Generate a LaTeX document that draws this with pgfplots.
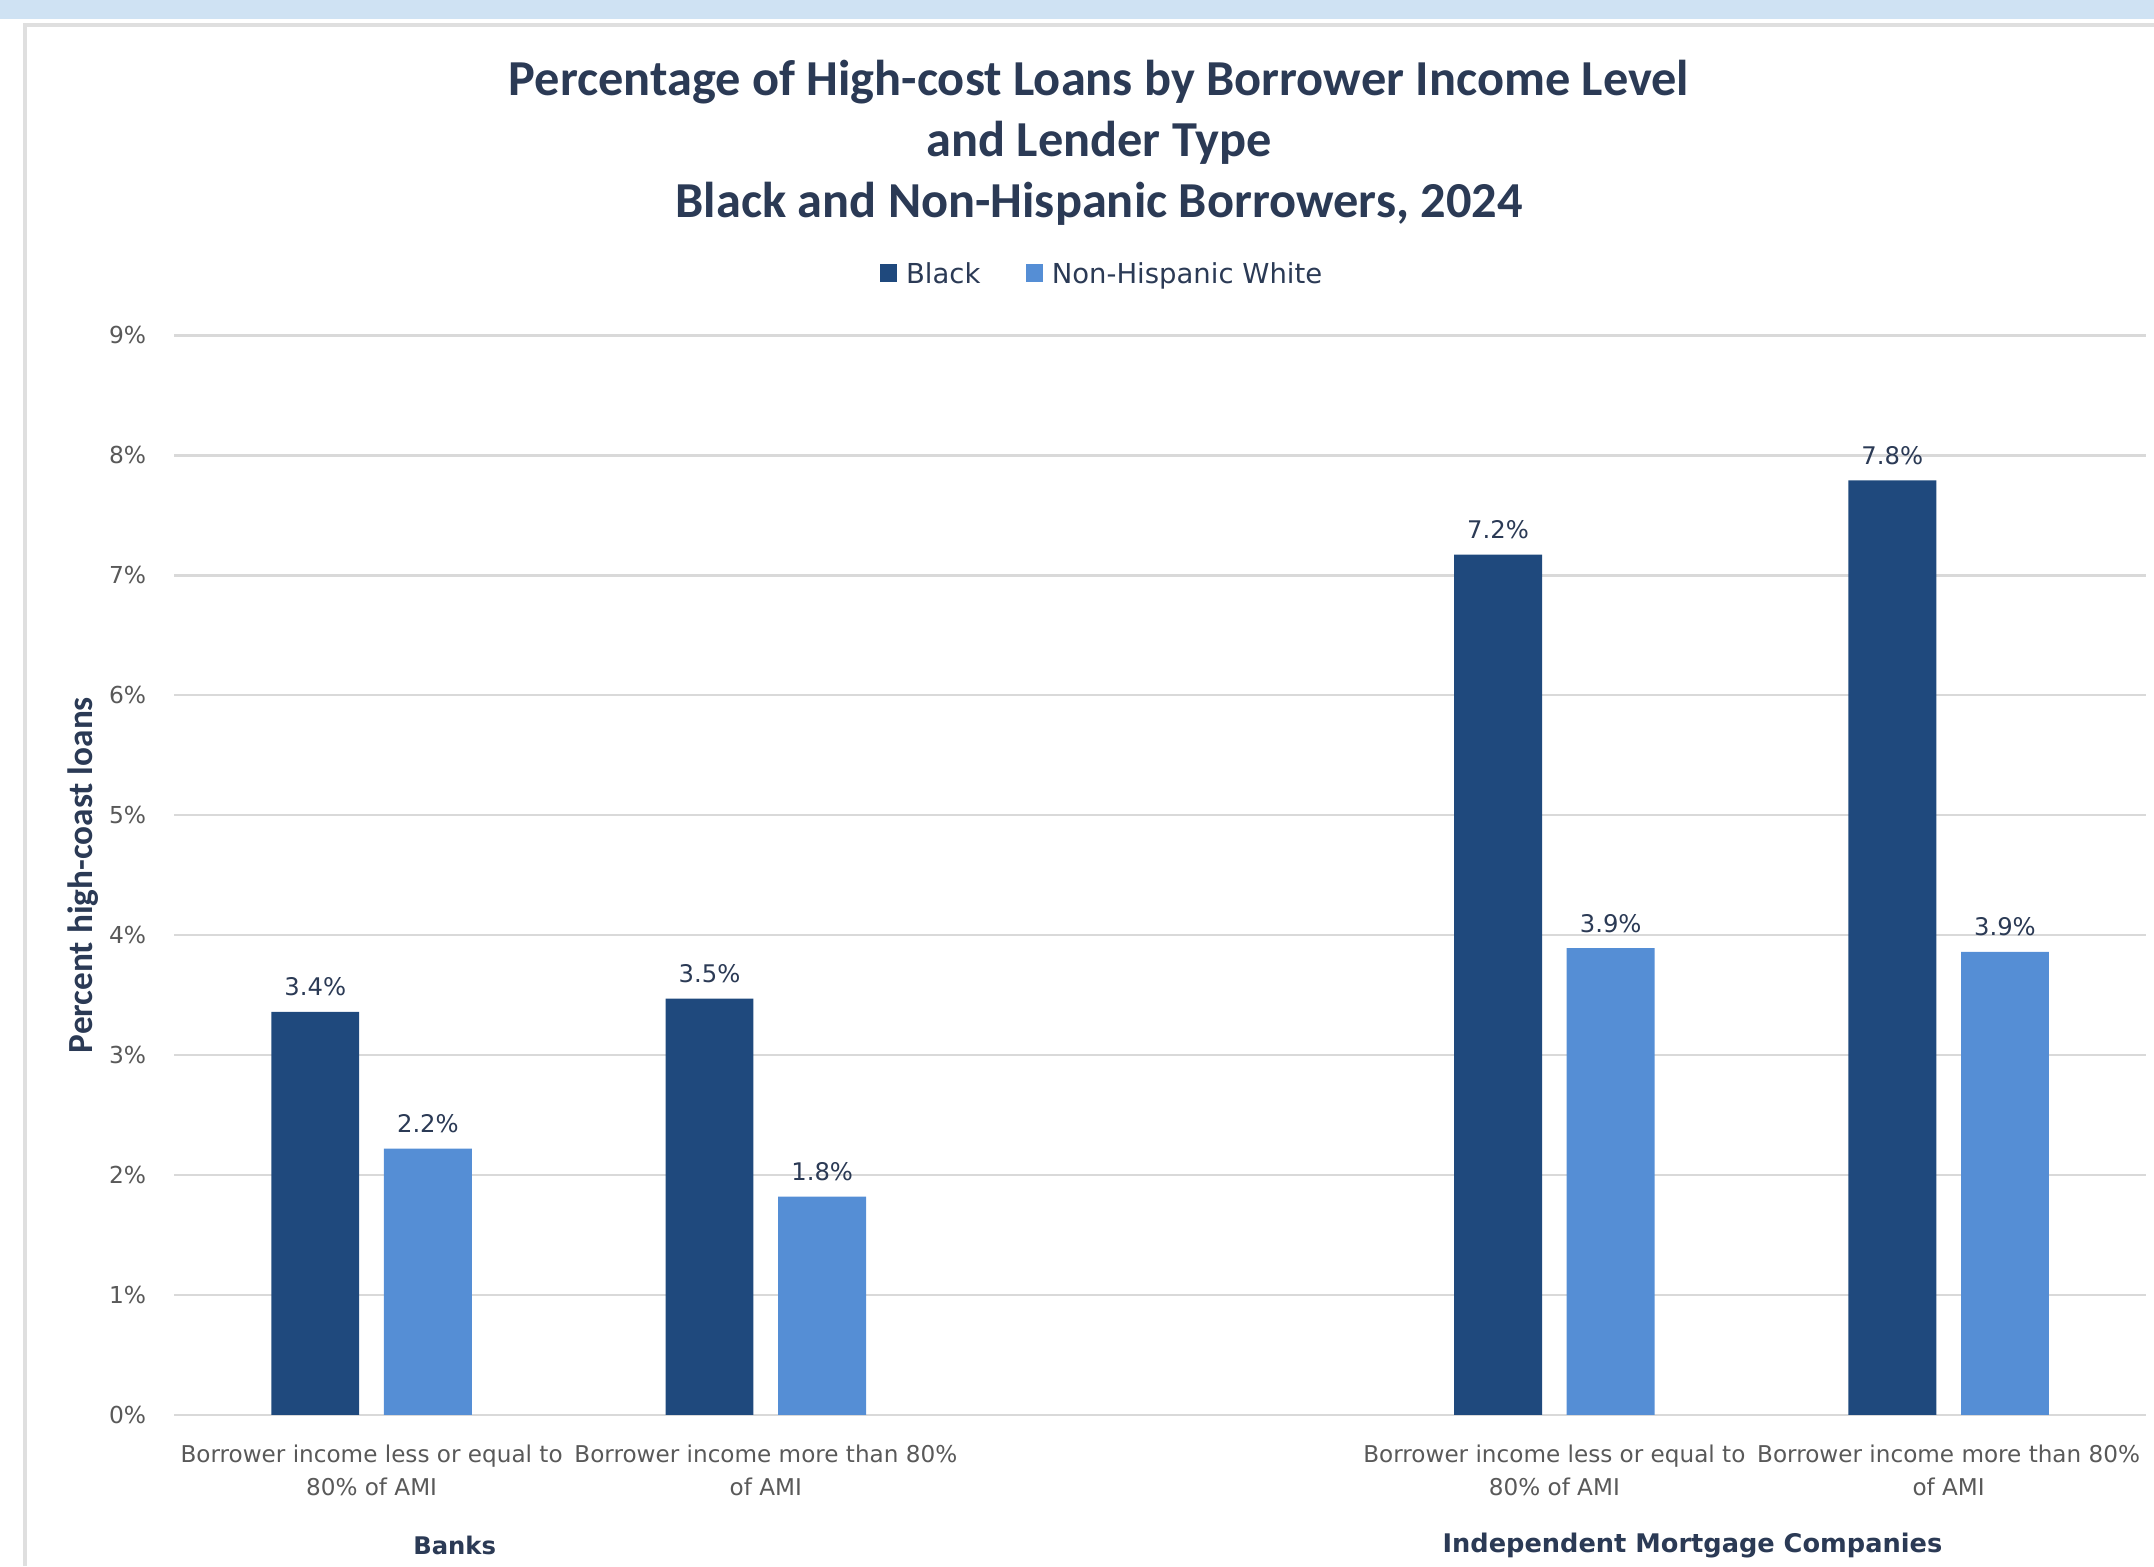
\documentclass[border=0pt]{standalone}
\usepackage{pgfplots}
\pgfplotsset{compat=1.18}
\usepackage{fontspec}
\setmainfont{Carlito}
\newfontfamily\dejavu{DejaVu Sans}
\definecolor{darkbar}{HTML}{1F497D}
\definecolor{lightbar}{HTML}{558ED5}
\definecolor{titlecol}{HTML}{2B3A55}
\definecolor{tickcol}{HTML}{595959}
\definecolor{gridcol}{HTML}{D9D9D9}
\definecolor{band}{HTML}{CFE2F3}
\begin{document}
\begin{tikzpicture}
\path[use as bounding box] (0,0) rectangle (470.4pt,342pt);
\fill[band] (0,337.8pt) rectangle (470.4pt,342pt);
\draw[gray!25, line width=0.8pt] (5.4pt,0) -- (5.4pt,336.6pt) -- (470.4pt,336.6pt);
\begin{axis}[
  at={(38.1pt,33pt)}, anchor=south west,
  scale only axis, width=430.5pt, height=235.8pt,
  ybar=5.4pt, bar width=19.2pt,
  xmin=-0.5, xmax=4.5, ymin=0, ymax=9,
  xtick={0,1,3,4},
  xticklabels={{Borrower income less or equal to\\80\% of AMI},{Borrower income more than 80\%\\of AMI},{Borrower income less or equal to\\80\% of AMI},{Borrower income more than 80\%\\of AMI}},
  xticklabel style={anchor=north, inner sep=0pt, yshift=-2pt, align=center, font=\dejavu\fontsize{5.05}{7.2}\selectfont, text=tickcol},
  ytick={0,1,...,9},
  yticklabel={\pgfmathprintnumber{\tick}\%},
  yticklabel style={anchor=east, inner sep=0pt, xshift=-6pt, font=\dejavu\fontsize{5.1}{6}\selectfont, text=tickcol},
  /pgf/number format/assume math mode=true,
  axis line style={draw=none},
  tick style={draw=none},
  ymajorgrids, grid style={gridcol, line width=0.6pt},
  ylabel={Percent high-coast loans},
  ylabel style={at={(axis description cs:-0.0465,0.5)}, anchor=center, font=\bfseries\fontsize{7.7}{9}\selectfont, text=titlecol},
  nodes near coords={\pgfmathprintnumber[fixed,precision=1,assume math mode=true]{\pgfplotspointmeta}\%},
  nodes near coords style={font=\dejavu\fontsize{5.3}{6}\selectfont, text=titlecol, inner sep=2pt, yshift=1.2pt},
  legend style={at={(axis description cs:0.4725,1.0547)}, anchor=center, draw=none, fill=none, legend columns=2, font=\dejavu\fontsize{6}{7}\selectfont, text=titlecol, /tikz/every even column/.append style={column sep=8pt}},
  legend image code/.code={\fill[#1] (0pt,-1.3pt) rectangle (3.6pt,2.6pt);},
]
\addplot[fill=darkbar, draw=none] coordinates {(0,3.36) (1,3.47) (3,7.17) (4,7.79)};
\addplot[fill=lightbar, draw=none] coordinates {(0,2.22) (1,1.82) (3,3.89) (4,3.86)};
\legend{Black, Non-Hispanic White}
\end{axis}
\node[align=center, font=\bfseries\fontsize{11}{13.3}\selectfont, text=titlecol] at (240pt,310.8pt) {Percentage of High-cost Loans by Borrower Income Level\\and Lender Type\\Black and Non-Hispanic Borrowers, 2024};
\node[font=\dejavu\bfseries\fontsize{5.3}{6}\selectfont, text=titlecol] at (99.3pt,4.5pt) {Banks};
\node[font=\dejavu\bfseries\fontsize{5.6}{6}\selectfont, text=titlecol] at (369.6pt,4.5pt) {Independent Mortgage Companies};
\end{tikzpicture}
\end{document}
